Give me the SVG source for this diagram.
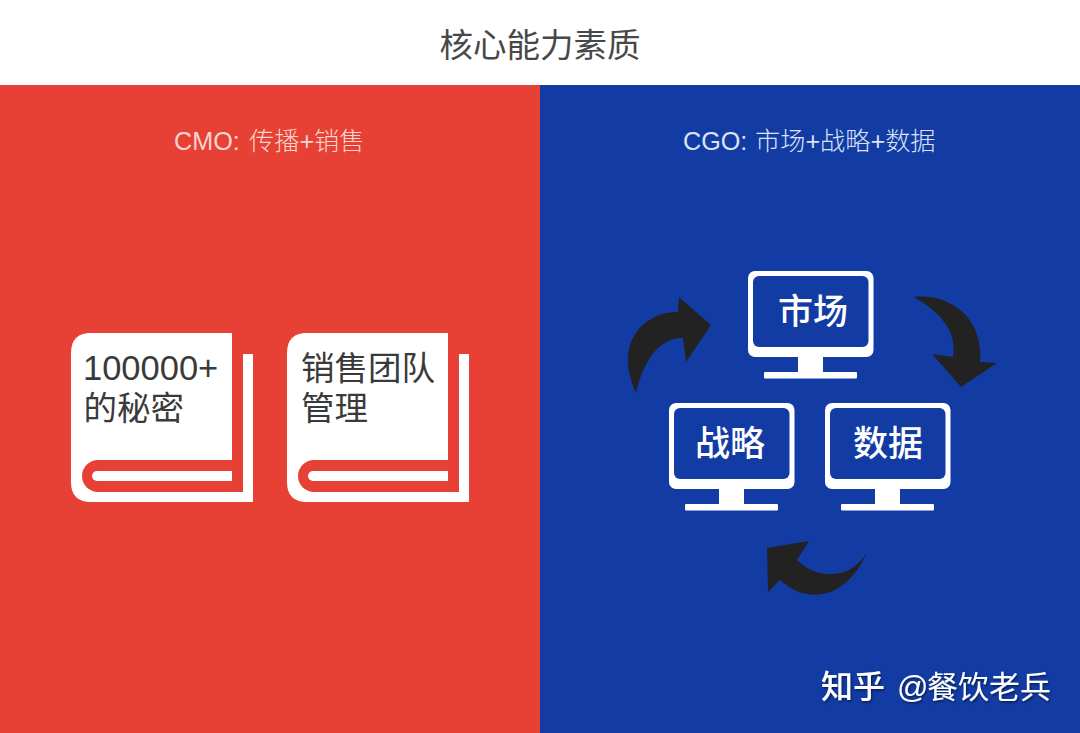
<svg xmlns="http://www.w3.org/2000/svg" width="1080" height="733" viewBox="0 0 1080 733">
<style>
text{font-family:"Liberation Sans","Noto Sans CJK SC",sans-serif}
.page{fill:#fff}
.band{fill:#e74034}
.dark{fill:#3a3a3a;font-size:33.5px}
.mon{fill:#fff}
.scr{fill:#123ca4}
.ml{fill:#fff;font-size:35px;text-anchor:middle;font-weight:500}
.arr{fill:#222}
.sub{font-size:25.200px;font-weight:300}
</style>
<defs>
<filter id="sh" x="-5%" y="-10%" width="110%" height="130%"><feDropShadow dx="1" dy="1.500" stdDeviation="1" flood-color="#000" flood-opacity=".55"/></filter>
<g id="book">
<path class="page" d="M91 333H232V460H243V354H253V502H91Q71 502 71 482V353Q71 333 91 333Z"/>
<path class="band" d="M98 460H243V492H98A16 16 0 0 1 98 460Z"/>
<path class="page" d="M97 471H232V481H97A5 5 0 0 1 97 471Z"/>
</g>
<g id="monitor">
<rect class="mon" x="0" y="0" width="125.500" height="86" rx="7"/>
<rect class="scr" x="5" y="5" width="115.500" height="71" rx="6"/>
<rect class="mon" x="50" y="84" width="25" height="20"/>
<rect class="mon" x="16" y="101" width="93" height="6.500" rx="1"/>
</g>
</defs>
<rect width="1080" height="733" fill="#fff"/>
<rect id="left-panel" x="0" y="85" width="540" height="648" fill="#e74034"/>
<rect id="right-panel" x="540" y="85" width="540" height="648" fill="#123ca4"/>
<text id="title" x="540" y="57" text-anchor="middle" font-size="33.500" fill="#484848">核心能力素质</text>
<text id="cmo" class="sub" y="150" fill="#fad4ce"><tspan x="174">CMO:</tspan><tspan x="249">传播+销售</tspan></text>
<text id="cgo" class="sub" y="150" fill="#dbe2f4"><tspan x="683">CGO:</tspan><tspan x="755">市场+战略+数据</tspan></text>
<g id="book-1">
<use href="#book"/>
<text class="dark" x="83" y="380" style="font-size:34.500px">100000+</text>
<text class="dark" x="83.500" y="420">的秘密</text>
</g>
<g id="book-2">
<use href="#book" x="216"/>
<text class="dark" x="301" y="380">销售团队</text>
<text class="dark" x="301" y="420">管理</text>
</g>
<g id="node-market">
<use href="#monitor" x="748" y="271"/>
<text class="ml" x="813" y="324">市场</text>
</g>
<g id="node-strategy">
<use href="#monitor" x="669" y="403"/>
<text class="ml" x="730" y="456">战略</text>
</g>
<g id="node-data">
<use href="#monitor" x="825" y="403"/>
<text class="ml" x="888" y="456">数据</text>
</g>
<g id="connectors">
<path class="arr" d="M636 393C622 362 627 338 645 323C655 315 666 312 678 312L679 297L711 325L686 362L683 338C662 338 645 355 636 393Z"/>
<path class="arr" d="M914 297C950 293 984 318 980 362L997 363L961 387L932 354L953 357C957 335 945 315 914 297Z"/>
<path class="arr" d="M867 553C855 570 842 575 827 574C815 573 805 568 797 560L809 541L767 548L768 592L780 580C795 594 812 597 827 593C845 588 858 572 867 553Z"/>
</g>
<text id="watermark" y="698" font-size="31" fill="#fff" filter="url(#sh)"><tspan x="821" font-weight="500" font-size="32">知乎</tspan><tspan x="897">@</tspan><tspan x="927">餐饮老兵</tspan></text>
</svg>
